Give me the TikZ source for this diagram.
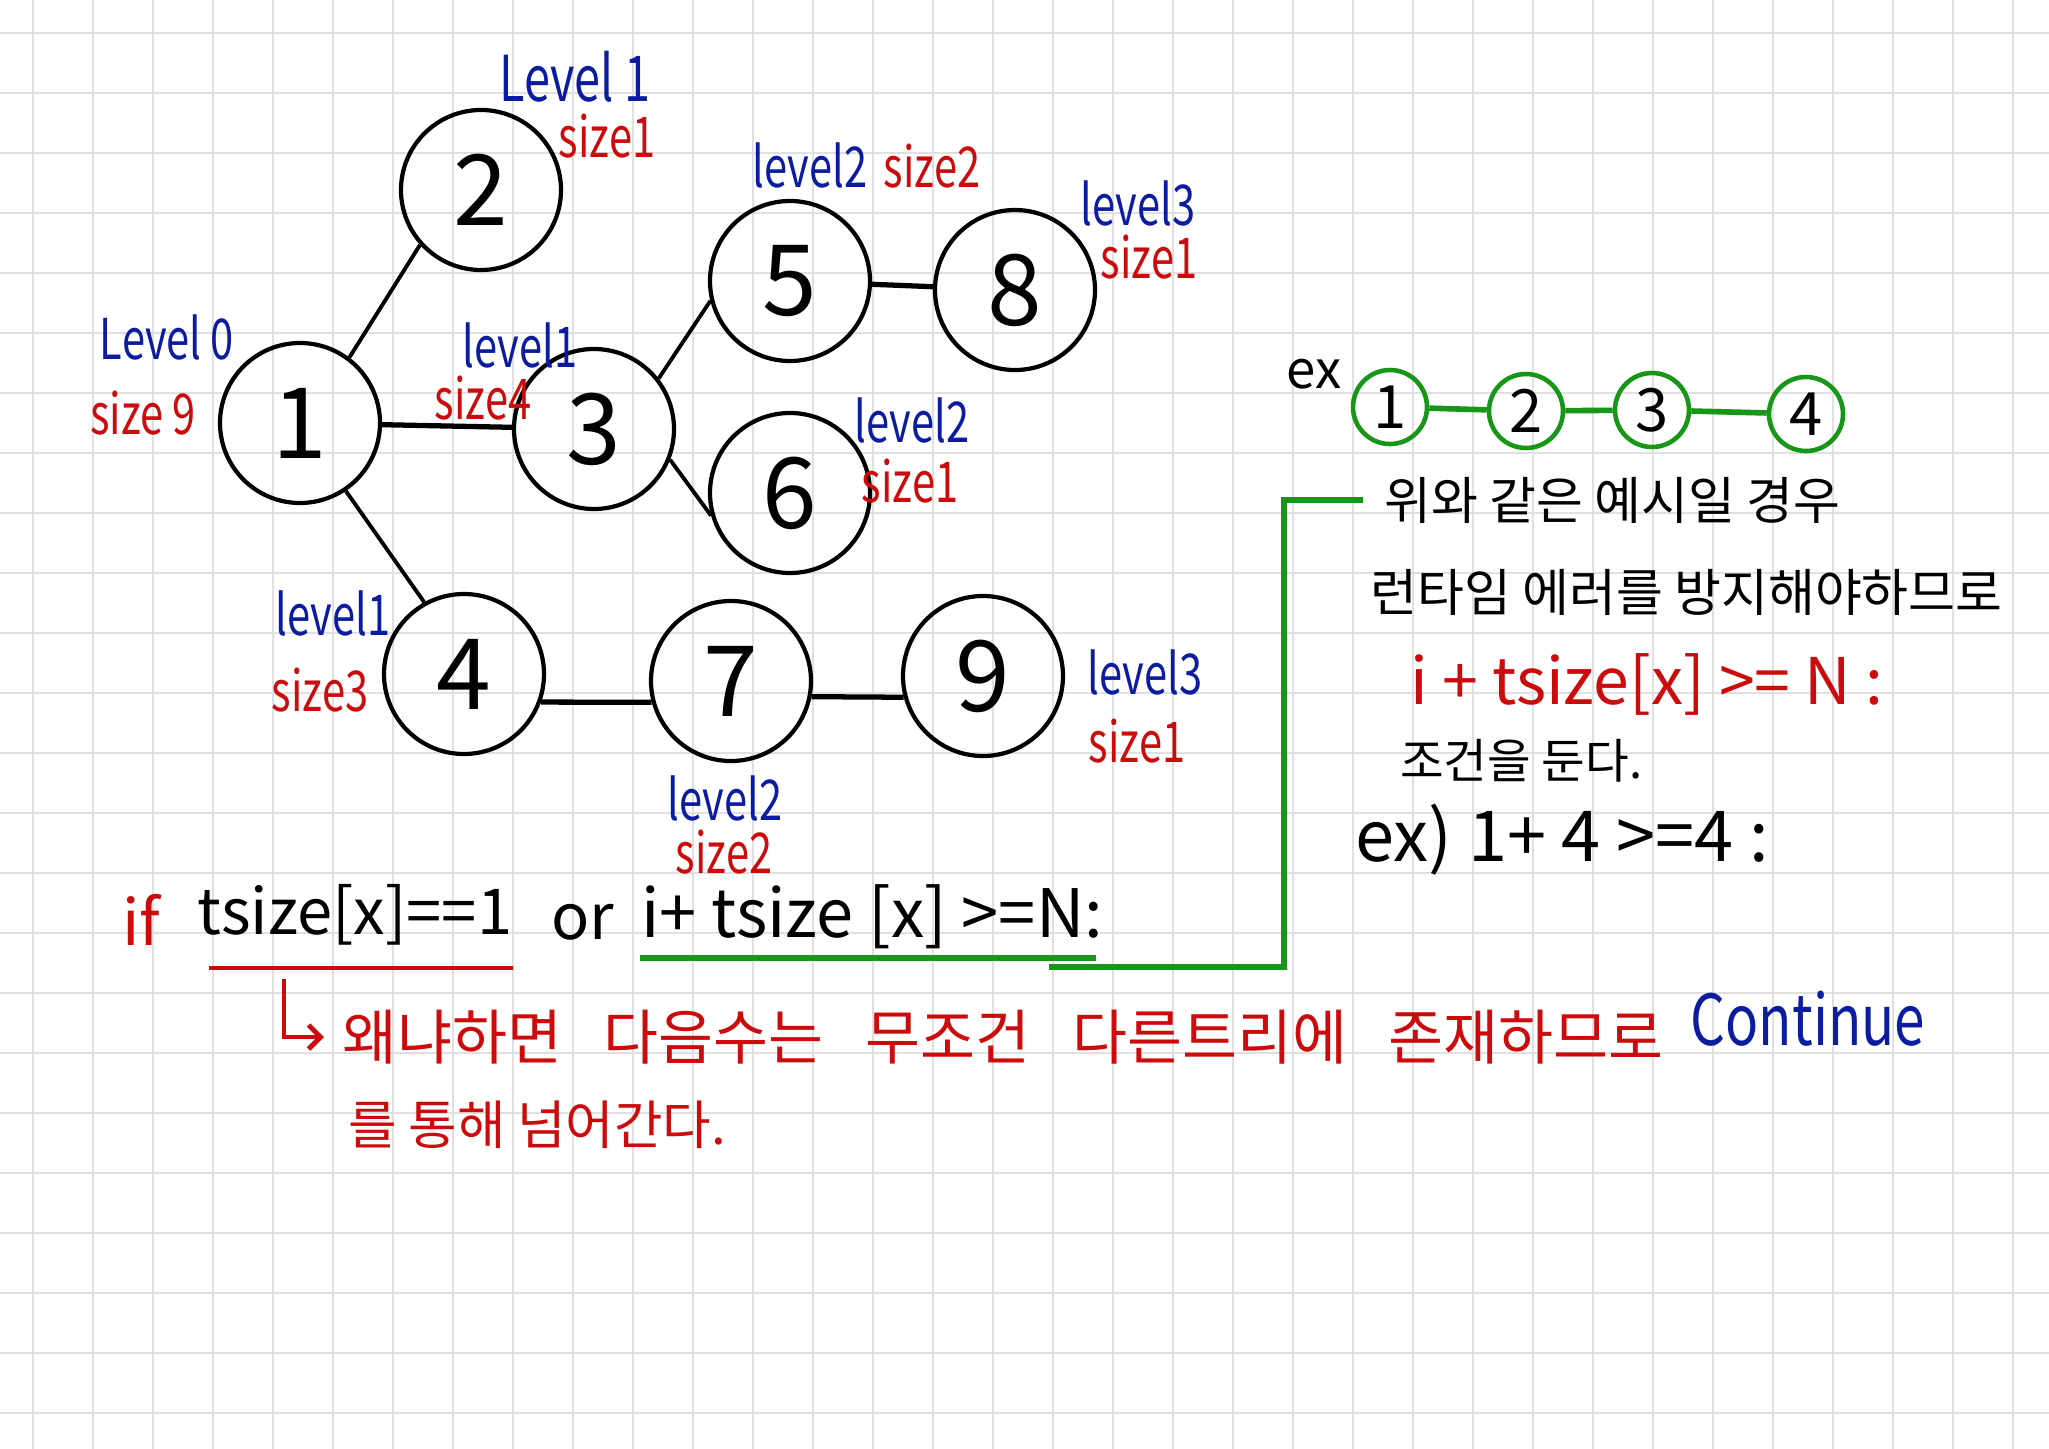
\documentclass[tikz,border=0pt]{standalone}
\usepackage{fontspec}
\setmainfont{Noto Sans CJK KR}
\usepackage{xcolor}
\usepackage{tikz}
\usetikzlibrary{arrows.meta, positioning, calc}

\definecolor{penblue}{RGB}{12,28,160}
\definecolor{penred}{RGB}{204,12,12}
\definecolor{pengreen}{RGB}{24,150,24}
\definecolor{gridgray}{RGB}{224,224,224}

\begin{document}
\begin{tikzpicture}[
  every node/.style={inner sep=1pt},
  vertex/.style={circle, draw, line width=1.2pt, minimum size=1.6cm, inner sep=0pt,
    font=\fontsize{28}{30}\selectfont},
  exvertex/.style={circle, draw=pengreen, line width=1.3pt, minimum size=0.74cm, inner sep=0pt,
    font=\fontsize{17}{18}\selectfont},
  lvl/.style={text=penblue, font=\fontsize{16}{17}\selectfont, xscale=0.74},
  sz/.style={text=penred, font=\fontsize{16}{17}\selectfont, xscale=0.74},
  note/.style={anchor=west, font=\fontsize{14.5}{16}\selectfont},
  codetxt/.style={font=\fontsize{18}{20}\selectfont},
  link/.style={line width=1.1pt},
  hlink/.style={line width=1.5pt},
  redpen/.style={draw=penred, line width=1.4pt},
  greenpen/.style={draw=pengreen, line width=1.6pt},
  gridline/.style={draw=gridgray, line width=0.45pt},
]
  % paper
  \fill[white] (0,0) rectangle (20.49,-14.49);
  \useasboundingbox (0,0) rectangle (20.49,-14.49);
  \foreach \gx in {0,...,33}
    \draw[gridline] ({0.33+0.6*\gx},0) -- ++(0,-14.49);
  \foreach \gy in {0,...,23}
    \draw[gridline] (0,{-0.33-0.6*\gy}) -- ++(20.49,0);

  % tree
  \node[vertex] (n1) at (3.00,-4.23) {1};
  \node[vertex] (n2) at (4.81,-1.90) {2};
  \node[vertex] (n3) at (5.94,-4.29) {3};
  \node[vertex] (n4) at (4.64,-6.74) {4};
  \node[vertex] (n5) at (7.90,-2.81) {5};
  \node[vertex] (n6) at (7.90,-4.93) {6};
  \node[vertex] (n7) at (7.31,-6.81) {7};
  \node[vertex] (n8) at (10.15,-2.90) {8};
  \node[vertex] (n9) at (9.83,-6.76) {9};

  \draw[link]  (n1.53)  -- (n2.222);
  \draw[hlink] (n1)     -- (n3);
  \draw[link]  (n1.-56) -- (n4.119);
  \draw[link]  (n3.38)  -- (n5.194);
  \draw[link]  (n3.-22) -- (n6.196);
  \draw[hlink] (n5)     -- (n8);
  \draw[hlink] (n4.-20) -- (n7.195);
  \draw[hlink] (n7.-11) -- (n9.195);

  % level / size labels
  \node[lvl] (l1) at (1.67,-3.37) {Level 0};
  \node[sz]  (s1) at (1.43,-4.13) {size 9};
  \node[lvl, font=\fontsize{18}{20}\selectfont] (l2) at (5.75,-0.77) {Level 1};
  \node[sz]  (s2) at (6.07,-1.36) {size1};
  \node[lvl] (l3) at (5.20,-3.45) {level1};
  \node[sz]  (s3) at (4.83,-3.98) {size4};
  \node[lvl] (l4) at (3.33,-6.13) {level1};
  \node[sz]  (s4) at (3.20,-6.90) {size3};
  \node[lvl] (l5) at (8.10,-1.65) {level2};
  \node[sz]  (s5) at (9.32,-1.66) {size2};
  \node[lvl] (l6) at (9.12,-4.20) {level2};
  \node[sz]  (s6) at (9.10,-4.81) {size1};
  \node[lvl] (l7) at (7.25,-7.98) {level2};
  \node[sz]  (s7) at (7.24,-8.52) {size2};
  \node[lvl] (l8) at (11.38,-2.03) {level3};
  \node[sz]  (s8) at (11.49,-2.57) {size1};
  \node[lvl] (l9) at (11.45,-6.72) {level3};
  \node[sz]  (s9) at (11.37,-7.41) {size1};

  % example chain
  \node[font=\fontsize{15}{16}\selectfont] (ex) at (13.14,-3.74) {ex};
  \node[exvertex] (e1) at (13.90,-4.07) {1};
  \node[exvertex] (e2) at (15.26,-4.11) {2};
  \node[exvertex] (e3) at (16.52,-4.10) {3};
  \node[exvertex] (e4) at (18.06,-4.14) {4};
  \draw[greenpen] (e1) -- (e2);
  \draw[greenpen] (e2) -- (e3);
  \draw[greenpen] (e3) -- (e4);

  \node[note] (t1) at (13.80,-5.00) {위와 같은 예시일 경우};
  \node[note] (t2) at (13.66,-5.92) {런타임 에러를 방지해야하므로};
  \node[note, text=penred, font=\fontsize{18.3}{20}\selectfont] (t3) at (14.06,-6.84) {i + tsize[x] >= N :};
  \node[note, font=\fontsize{13.5}{15}\selectfont] (t4) at (13.96,-7.61) {조건을 둔다.};
  \node[note, font=\fontsize{20}{22}\selectfont] (t5) at (13.51,-8.40) {ex) 1+ 4 >=4 :};

  % condition line
  \node[codetxt, text=penred] (ifkw) at (1.41,-9.20) {if};
  \node[codetxt] (cond1) at (3.55,-9.15) {tsize[x]==1};
  \node[codetxt] (orkw) at (5.83,-9.22) {or};
  \node[codetxt, font=\fontsize{19}{21}\selectfont] (cond2) at (8.72,-9.17) {i+ tsize [x] >=N:};

  \draw[redpen] (2.09,-9.68) -- (5.13,-9.68);
  \draw[greenpen] (6.40,-9.58) -- (10.96,-9.58);

  \coordinate (gtail) at (10.49,-9.67);
  \coordinate (gbend) at (12.84,-9.67);
  \draw[greenpen, shorten >=0.17cm] (gtail) -- (gbend) |- (t1.west);

  % reason
  \node[anchor=west, text=penred, font=\fontsize{17}{19}\selectfont] (why) at (3.38,-10.37)
    {왜냐하면\hspace{0.7em}다음수는\hspace{0.7em}무조건\hspace{0.7em}다른트리에\hspace{0.7em}존재하므로};
  \node[text=penblue, font=\fontsize{20}{22}\selectfont, xscale=0.78] (cont) at (18.08,-10.19) {Continue};
  \node[anchor=west, text=penred, font=\fontsize{15}{17}\selectfont] (why2) at (3.44,-11.25)
    {를 통해 넘어간다.};

  \coordinate (rtail) at (2.84,-9.79);
  \draw[redpen, -{Straight Barb[length=1.2mm, width=2.4mm]}, shorten >=0.14cm] (rtail) |- (why.west);
\end{tikzpicture}
\end{document}
